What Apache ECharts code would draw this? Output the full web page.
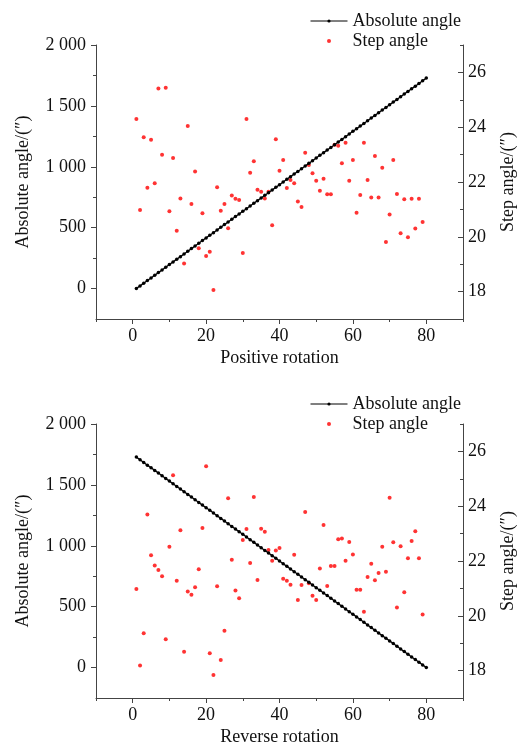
<!DOCTYPE html>
<html><head><meta charset="utf-8">
<script src="https://cdn.jsdelivr.net/npm/echarts@6/dist/echarts.min.js"></script>
<style>html,body{margin:0;padding:0;background:#fff}#c{width:518px;height:748px}</style>
</head><body><div id="c"></div>
<script>
// Rotation index (x) for the absolute-angle line
const rotation = [1,2,3,4,5,6,7,8,9,10,11,12,13,14,15,16,17,18,19,20,21,22,23,24,25,26,27,28,29,30,31,32,33,34,35,36,37,38,39,40,41,42,43,44,45,46,47,48,49,50,51,52,53,54,55,56,57,58,59,60,61,62,63,64,65,66,67,68,69,70,71,72,73,74,75,76,77,78,79,80];
// Step index (x) for the step-angle points
const stepIndex = [1,2,3,4,5,6,7,8,9,10,11,12,13,14,15,16,17,18,19,20,21,22,23,24,25,26,27,28,29,30,31,32,33,34,35,36,37,38,39,40,41,42,43,44,45,46,47,48,49,50,51,52,53,54,55,56,57,58,59,60,61,62,63,64,65,66,67,68,69,70,71,72,73,74,75,76,77,78,79];

// Positive rotation
const absPositive = [0,22,44,66,87,109,131,153,175,197,219,241,262,284,306,328,350,372,394,416,437,459,481,503,525,547,569,591,612,634,656,678,700,722,744,766,787,809,831,853,875,897,919,941,962,984,1006,1028,1050,1072,1094,1116,1137,1159,1181,1203,1225,1247,1269,1291,1312,1334,1356,1378,1400,1422,1444,1466,1487,1509,1531,1553,1575,1597,1619,1641,1662,1684,1706,1728];
const stepPositive = [24.30,20.98,23.63,21.79,23.54,21.95,25.41,22.99,25.44,20.93,22.88,20.22,21.40,19.03,24.04,21.20,22.38,19.58,20.86,19.30,19.45,18.06,21.81,20.95,21.20,20.31,21.51,21.39,21.34,19.41,24.30,22.34,22.76,21.72,21.64,21.40,21.64,20.42,23.56,22.41,22.80,21.78,22.07,21.95,21.29,21.09,23.07,22.62,22.32,22.05,21.68,22.12,21.55,21.55,23.36,23.32,22.68,23.43,22.05,22.80,20.88,21.53,23.43,22.07,21.43,22.95,21.43,22.52,19.81,20.81,22.80,21.56,20.13,21.37,19.98,21.39,20.30,21.39,20.54];

// Reverse rotation
const absReverse = [1728,1706,1684,1662,1641,1619,1597,1575,1553,1531,1509,1487,1466,1444,1422,1400,1378,1356,1334,1312,1291,1269,1247,1225,1203,1181,1159,1137,1116,1094,1072,1050,1028,1006,984,962,941,919,897,875,853,831,809,787,766,744,722,700,678,656,634,612,591,569,547,525,503,481,459,437,416,394,372,350,328,306,284,262,241,219,197,175,153,131,109,87,66,44,22,0];
const stepReverse = [20.98,18.19,19.36,23.70,22.21,21.84,21.67,21.44,19.14,22.52,25.13,21.28,23.12,18.69,20.89,20.77,21.04,21.70,23.20,25.46,18.63,17.84,21.08,18.39,19.45,24.29,22.05,20.92,20.64,22.77,23.17,21.93,24.34,21.31,23.18,23.07,22.40,22.01,22.38,22.47,21.35,21.28,21.13,22.23,20.58,21.12,23.79,21.19,20.73,20.58,21.73,23.31,21.09,21.82,21.82,22.79,22.82,22.01,22.69,22.24,20.95,20.95,20.15,21.42,21.90,21.30,21.56,22.52,21.61,24.31,22.68,20.30,22.54,20.86,22.10,22.73,23.09,22.10,20.05];

// Tick values
const xMajor = [0,20,40,60,80];
const xMinor = [-10,10,30,50,70,90];
const leftMajor = [0,500,1000,1500,2000];
const leftMinor = [250,750,1250,1750];
const rightMajor = [18,20,22,24,26];
const rightMinor = [17,19,21,23,25,27];
const xTitles = ['Positive rotation','Reverse rotation'];
const seriesNames = ['Absolute angle','Step angle'];

const FONT = "'Liberation Serif','Times New Roman',serif";
const AXC = '#444';
const TXT = '#111';

function fmtThousands(v){
  const s = String(Math.round(v));
  return s.length > 3 ? s.slice(0, s.length-3) + ' ' + s.slice(-3) : s;
}

const panels = [
  {top:45, legendTop:7, abs:absPositive, step:stepPositive},
  {top:424, legendTop:390, abs:absReverse, step:stepReverse}
];

const option = {animation:false, backgroundColor:'#fff', grid:[], xAxis:[], yAxis:[], series:[], legend:[]};

panels.forEach((p, k) => {
  option.grid.push({left:96, width:367, top:p.top, height:274, outerBoundsMode:'none', containLabel:false});
  const line = {show:true, onZero:false, lineStyle:{color:AXC, width:1}};
  // x axis main
  option.xAxis.push({
    type:'value', gridIndex:k, min:-10, max:90, interval:10, position:'bottom',
    axisLine:line, splitLine:{show:false},
    axisTick:{show:true, length:5, customValues:xMajor, lineStyle:{color:AXC}},
    axisLabel:{customValues:xMajor, margin:8, fontSize:18, fontFamily:FONT, color:TXT},
    name:xTitles[k], nameLocation:'middle', nameGap:30,
    nameTextStyle:{fontSize:18, fontFamily:FONT, color:TXT}
  });
  // x axis minor ticks
  option.xAxis.push({
    type:'value', gridIndex:k, min:-10, max:90, interval:10, position:'bottom',
    axisLine:{show:false, onZero:false}, splitLine:{show:false},
    axisTick:{show:true, length:3, customValues:xMinor, lineStyle:{color:AXC}},
    axisLabel:{show:false}
  });
  // left main
  option.yAxis.push({
    type:'value', gridIndex:k, min:-250, max:2000, interval:250, position:'left',
    axisLine:line, splitLine:{show:false},
    axisTick:{show:true, length:5, customValues:leftMajor, lineStyle:{color:AXC}},
    axisLabel:{customValues:leftMajor, formatter:fmtThousands, margin:10, fontSize:18, fontFamily:FONT, color:TXT},
    name:'Absolute angle/(\u2033)', nameLocation:'middle', nameGap:64,
    nameTextStyle:{fontSize:18, fontFamily:FONT, color:TXT}
  });
  // left minor
  option.yAxis.push({
    type:'value', gridIndex:k, min:-250, max:2000, interval:250, position:'left',
    axisLine:{show:false, onZero:false}, splitLine:{show:false},
    axisTick:{show:true, length:3, customValues:leftMinor, lineStyle:{color:AXC}},
    axisLabel:{show:false}
  });
  // right main
  option.yAxis.push({
    type:'value', gridIndex:k, min:17, max:27, interval:1, position:'right',
    axisLine:line, splitLine:{show:false},
    axisTick:{show:true, inside:true, length:5, customValues:rightMajor, lineStyle:{color:AXC}},
    axisLabel:{customValues:rightMajor, margin:5, fontSize:18, fontFamily:FONT, color:TXT},
    name:'Step angle/(\u2033)', nameLocation:'middle', nameGap:36, nameRotate:90,
    nameTextStyle:{fontSize:18, fontFamily:FONT, color:TXT}
  });
  // right minor
  option.yAxis.push({
    type:'value', gridIndex:k, min:17, max:27, interval:1, position:'right',
    axisLine:{show:false, onZero:false}, splitLine:{show:false},
    axisTick:{show:true, inside:true, length:3, customValues:rightMinor, lineStyle:{color:AXC}},
    axisLabel:{show:false}
  });

  option.series.push({
    name:seriesNames[0], type:'line', xAxisIndex:2*k, yAxisIndex:4*k,
    data: rotation.map((x,i) => [x, p.abs[i]]),
    symbol:'circle', symbolSize:3.5, showSymbol:true,
    itemStyle:{color:'#000'}, lineStyle:{color:'#000', width:1.3}, z:3
  });
  option.series.push({
    name:seriesNames[1], type:'scatter', xAxisIndex:2*k, yAxisIndex:4*k+2,
    data: stepIndex.map((x,i) => [x, p.step[i]]),
    symbol:'circle', symbolSize:4, itemStyle:{color:'#ff0000'}, z:2
  });

  option.legend.push({
    data:[{name:seriesNames[0], lineStyle:{width:1}}, {name:seriesNames[1], icon:'circle'}],
    orient:'vertical', left:305, top:p.legendTop,
    itemWidth:37, itemHeight:4, itemGap:2, selectedMode:false,
    textStyle:{fontSize:18, fontFamily:FONT, color:TXT, lineHeight:17}
  });
});

const chart = echarts.init(document.getElementById('c'), null, {renderer:'canvas'});
chart.setOption(option);
</script>
</body></html>
